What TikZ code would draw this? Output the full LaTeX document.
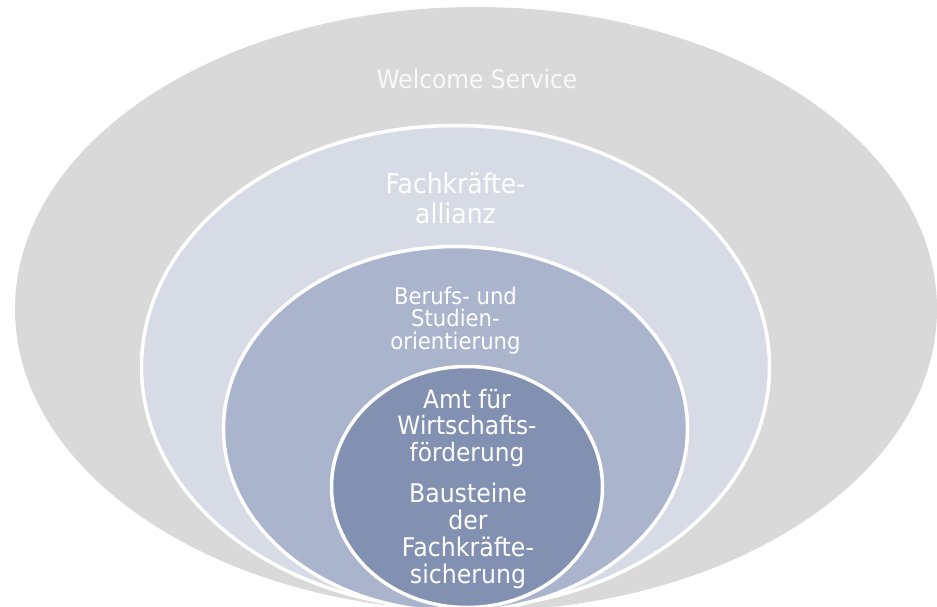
\documentclass[tikz,border=0pt]{standalone}
\usepackage{fontspec}
\setmainfont{DejaVu Sans}[FakeStretch=0.92]
\usetikzlibrary{shapes.geometric}
\definecolor{outerc}{HTML}{D9D9D9}
\definecolor{fachc}{HTML}{D6DBE5}
\definecolor{berufc}{HTML}{AAB4CC}
\definecolor{amtc}{HTML}{8290B2}
\begin{document}
\begin{tikzpicture}[x=1pt,y=-1pt,
  ring/.style={ellipse, inner sep=0pt, draw=white, line width=3.5pt},
  lbl/.style={text=white, align=center, inner sep=0pt, anchor=base}]
\useasboundingbox (0,0) rectangle (937,606);
\clip (0,0) rectangle (937,606);
\fill[white] (0,0) rectangle (937,606);
\node[ellipse, inner sep=0pt, fill=outerc, minimum width=922pt, minimum height=604pt] (ws) at (476,309) {};
\node[ring, fill=fachc, minimum width=628pt, minimum height=483pt] (fa) at (455.5,367) {};
\node[ring, fill=berufc, minimum width=464pt, minimum height=365pt] (bo) at (455.5,429) {};
\node[ring, fill=amtc, minimum width=271pt, minimum height=241pt] (af) at (467,487) {};
\node[lbl, text opacity=0.85, font=\fontsize{25.4}{28}\selectfont] (wst) at (477,88) {Welcome Service};
\node[lbl, font=\fontsize{27.2}{30}\selectfont] (fat) at (455.5,223) {Fachkräfte-\\allianz};
\node[lbl, font=\fontsize{23}{22.5}\selectfont] (bot) at (455.5,349) {Berufs- und\\Studien-\\orientierung};
\node[lbl, font=\fontsize{25.3}{26.7}\selectfont] (aft) at (467,461.4) {Amt für\\Wirtschafts-\\förderung};
\node[lbl, font=\fontsize{25.7}{27}\selectfont] (bst) at (468,583) {Bausteine\\der\\Fachkräfte-\\sicherung};
\end{tikzpicture}
\end{document}
